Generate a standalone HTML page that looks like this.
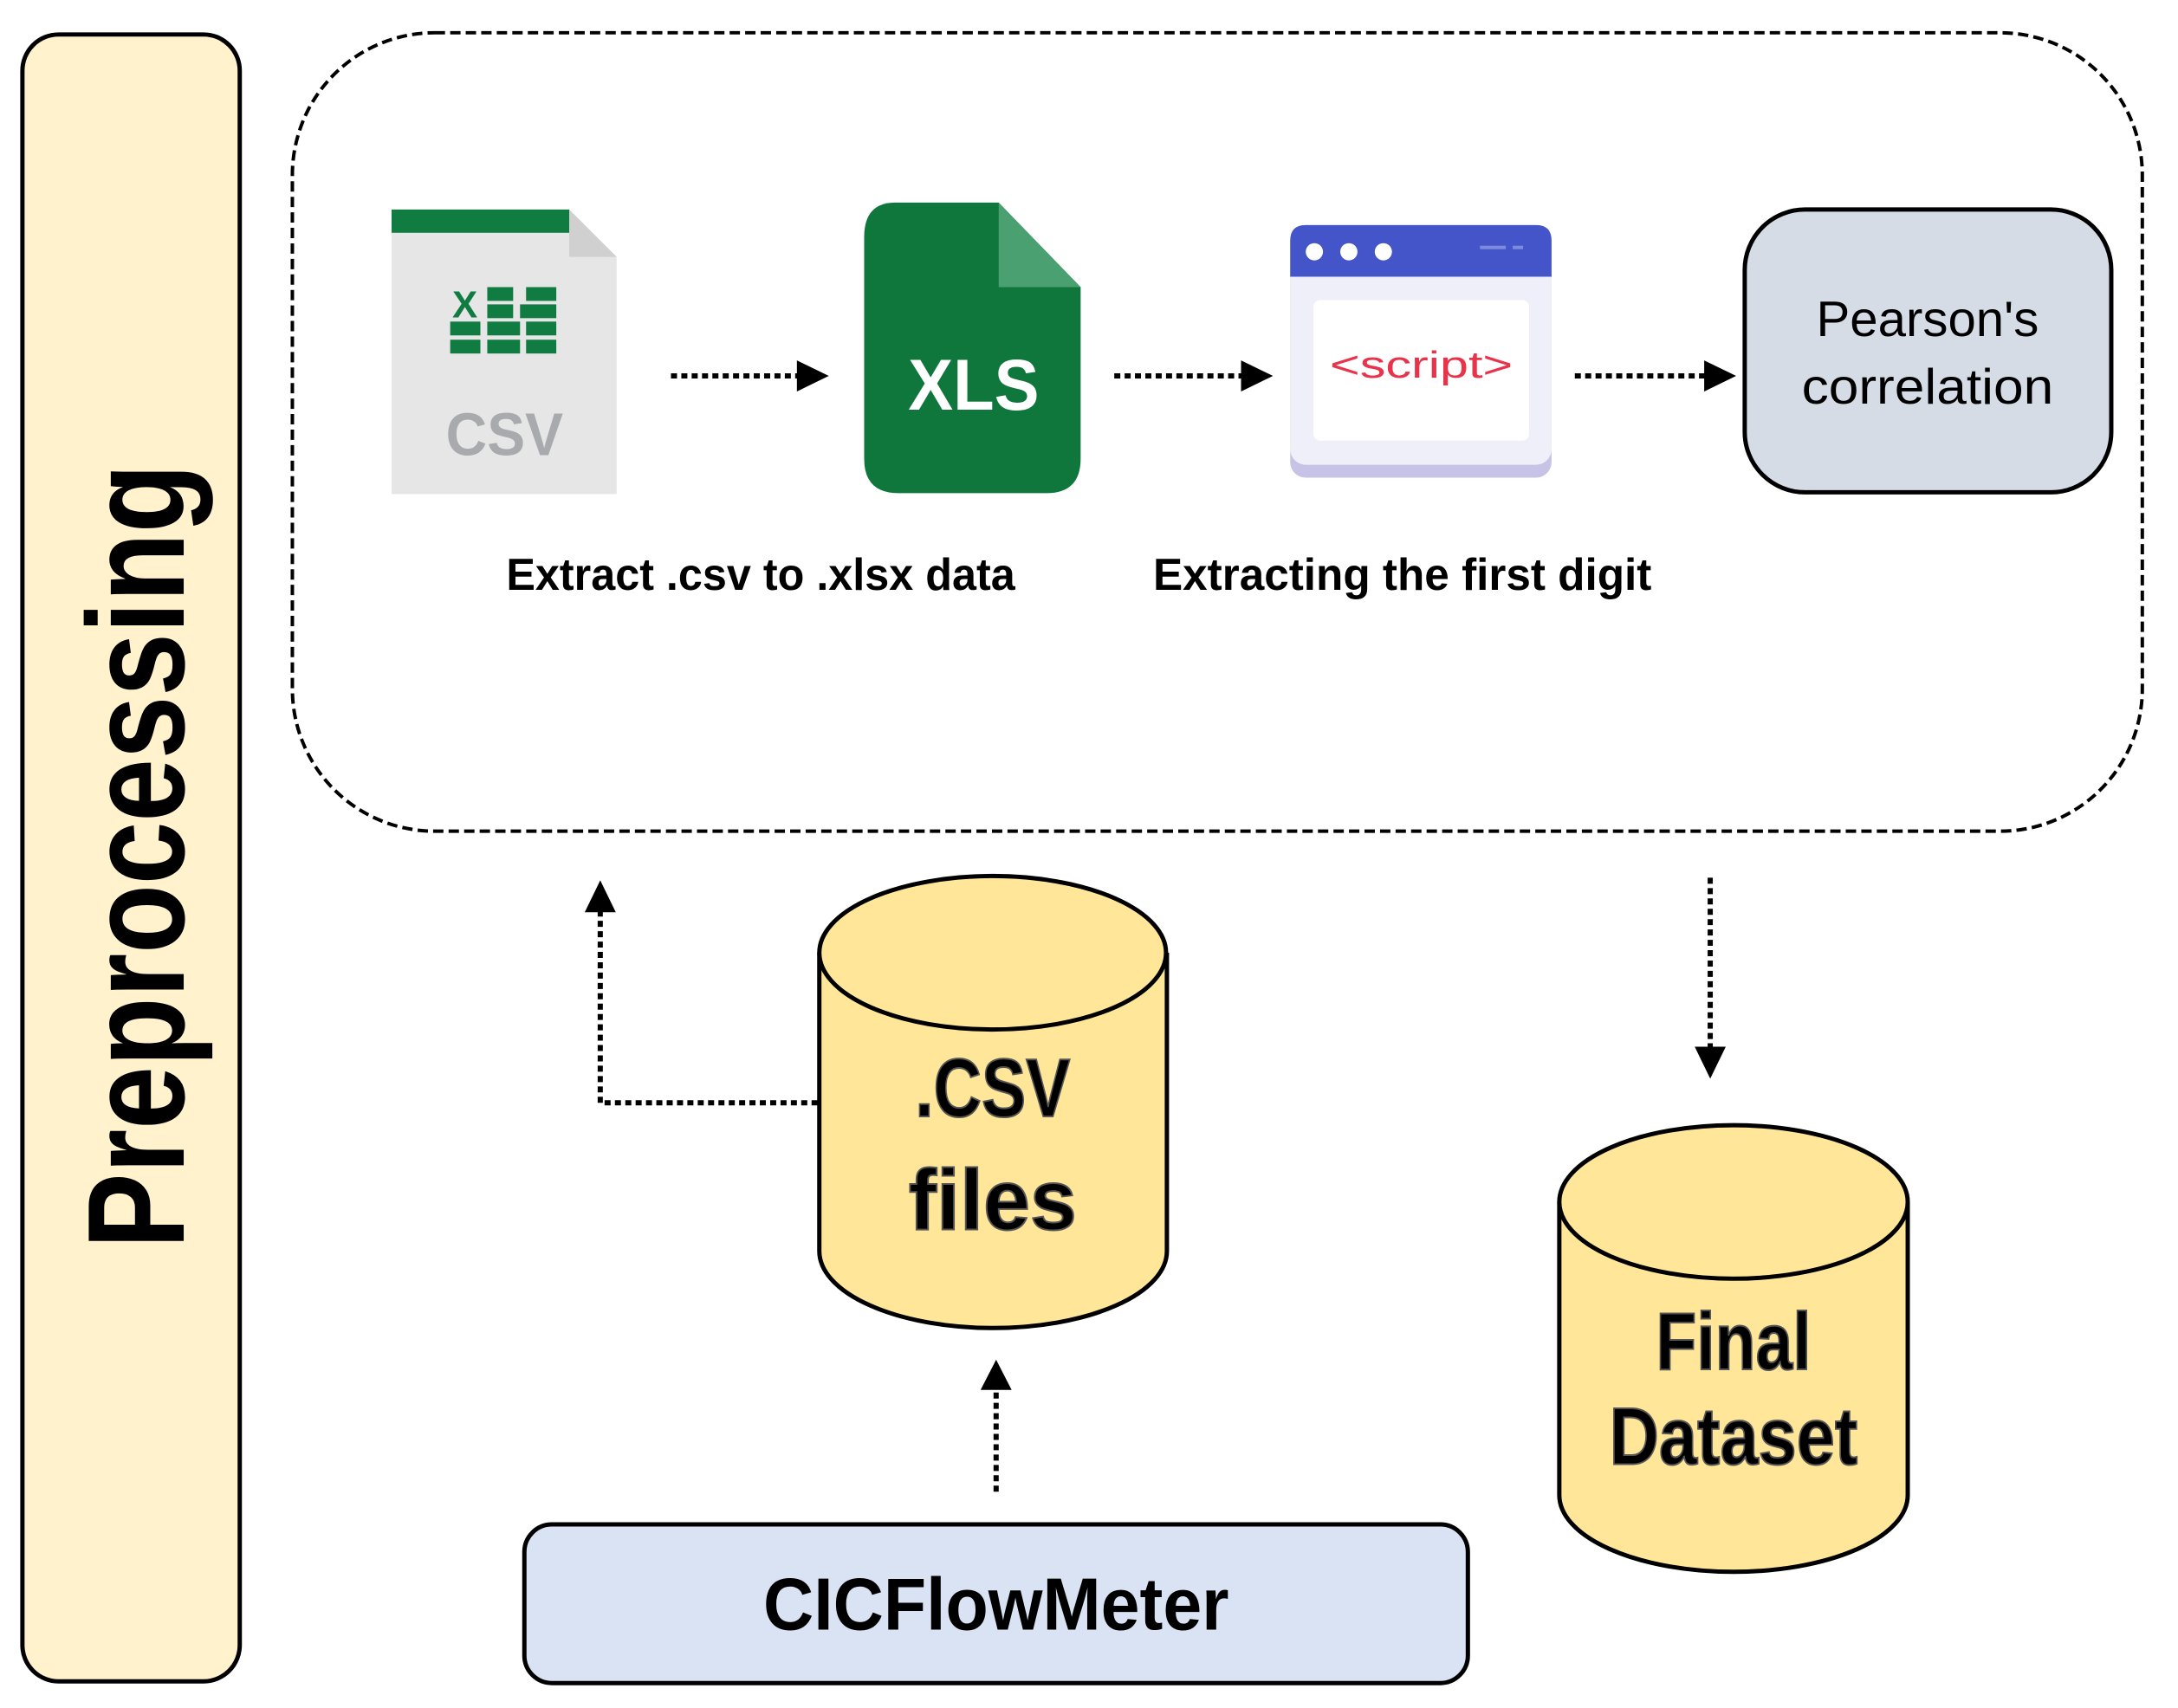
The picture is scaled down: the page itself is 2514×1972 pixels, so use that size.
<!DOCTYPE html>
<html><head><meta charset="utf-8"><style>
html,body{margin:0;padding:0;background:#fff}
svg{display:block}
text{font-family:"Liberation Sans",sans-serif}
</style></head><body>
<svg width="2514" height="1972" viewBox="0 0 2514 1972" xmlns="http://www.w3.org/2000/svg">
<g transform="translate(-2,-2) scale(0.9955)">
<!-- left bar -->
<rect x="28" y="42" width="252" height="1910" rx="42" fill="#fff2cc" stroke="#000" stroke-width="5"/>
<text x="0" y="0" transform="translate(215,1450) rotate(-90)" font-size="160" font-weight="bold" textLength="910" lengthAdjust="spacingAndGlyphs">Preprocessing</text>

<!-- dashed container -->
<rect x="341" y="40" width="2145" height="926" rx="165" fill="none" stroke="#000" stroke-width="4" stroke-dasharray="12 6"/>

<!-- CSV icon -->
<path d="M456 245 H662 L717 300 V575 H456 Z" fill="#e6e6e6"/>
<path d="M662 245 V300 H717 Z" fill="#d0d0d0"/>
<rect x="456" y="245" width="206" height="27" fill="#107c41"/>
<g fill="#107c41">
<rect x="567" y="335" width="30" height="16"/><rect x="612" y="335" width="35" height="16"/>
<rect x="567" y="355" width="30" height="16"/><rect x="605" y="355" width="42" height="16"/>
<rect x="524" y="375" width="35" height="16"/><rect x="567" y="375" width="38" height="16"/><rect x="612" y="375" width="35" height="16"/>
<rect x="524" y="396" width="35" height="16"/><rect x="567" y="396" width="38" height="16"/><rect x="612" y="396" width="35" height="16"/>
</g>
<text x="541" y="370" font-size="44" font-weight="bold" fill="#107c41" text-anchor="middle">X</text>
<text x="587" y="530" font-size="70" font-weight="bold" fill="#a8aaad" text-anchor="middle" textLength="136" lengthAdjust="spacingAndGlyphs">CSV</text>

<!-- XLS icon -->
<path d="M1040 237 H1160 L1255 335 V534 Q1255 574 1215 574 H1044 Q1004 574 1004 534 V277 Q1004 237 1040 237 Z" fill="#0f773c"/>
<path d="M1160 237 V335 H1255 Z" fill="#4aa070"/>
<text x="1131" y="477" font-size="84" font-weight="bold" fill="#fff" text-anchor="middle" textLength="152" lengthAdjust="spacingAndGlyphs">XLS</text>

<!-- script icon -->
<rect x="1498" y="263" width="303" height="293" rx="18" fill="#c6c3e6"/>
<rect x="1498" y="263" width="303" height="278" rx="18" fill="#efeffa"/>
<path d="M1516 263 H1783 Q1801 263 1801 281 V323 H1498 V281 Q1498 263 1516 263 Z" fill="#4355c9"/>
<circle cx="1526" cy="294" r="10" fill="#fff"/><circle cx="1566" cy="294" r="10" fill="#fff"/><circle cx="1606" cy="294" r="10" fill="#fff"/>
<rect x="1718" y="287" width="30" height="4" fill="#7c8be0"/><rect x="1756" y="287" width="12" height="4" fill="#7c8be0"/>
<rect x="1525" y="350" width="250" height="163" rx="8" fill="#fff"/>
<text x="1650" y="440" font-size="44" fill="#e8334a" text-anchor="middle" textLength="212" lengthAdjust="spacingAndGlyphs">&lt;script&gt;</text>

<!-- Pearson box -->
<rect x="2025" y="245" width="425" height="328" rx="70" fill="#d6dce5" stroke="#000" stroke-width="5"/>
<text x="2237" y="392" font-size="58" text-anchor="middle" textLength="258" lengthAdjust="spacingAndGlyphs">Pearson's</text>
<text x="2237" y="470" font-size="58" text-anchor="middle" textLength="292" lengthAdjust="spacingAndGlyphs">correlation</text>

<!-- horizontal arrows -->
<g stroke="#000" stroke-width="6" stroke-dasharray="7 5">
<line x1="780" y1="438" x2="930" y2="438"/>
<line x1="1294" y1="438" x2="1445" y2="438"/>
<line x1="1828" y1="438" x2="1982" y2="438"/>
</g>
<g fill="#000">
<path d="M926 420 L963 438 L926 456 Z"/>
<path d="M1441 420 L1478 438 L1441 456 Z"/>
<path d="M1978 420 L2015 438 L1978 456 Z"/>
</g>

<!-- labels -->
<text x="884" y="686" font-size="52" font-weight="bold" text-anchor="middle" textLength="590" lengthAdjust="spacingAndGlyphs">Extract .csv to .xlsx data</text>
<text x="1628" y="686" font-size="52" font-weight="bold" text-anchor="middle" textLength="578" lengthAdjust="spacingAndGlyphs">Extracting the first digit</text>

<!-- csv cylinder -->
<path d="M952 1107 V1453 A201 89 0 0 0 1355 1453 V1107" fill="#ffe699" stroke="#000" stroke-width="5"/>
<ellipse cx="1153" cy="1107" rx="201" ry="89" fill="#ffe699" stroke="#000" stroke-width="5"/>
<text x="1153" y="1297" font-size="96" font-weight="bold" text-anchor="middle" textLength="180" lengthAdjust="spacingAndGlyphs" stroke="#555" stroke-width="2">.CSV</text>
<text x="1153" y="1428" font-size="100" font-weight="bold" text-anchor="middle" textLength="195" lengthAdjust="spacingAndGlyphs" stroke="#555" stroke-width="2">files</text>

<!-- final dataset cylinder -->
<path d="M1810 1396 V1736 A202 89 0 0 0 2214 1736 V1396" fill="#ffe699" stroke="#000" stroke-width="5"/>
<ellipse cx="2012" cy="1396" rx="202" ry="89" fill="#ffe699" stroke="#000" stroke-width="5"/>
<text x="2012" y="1590" font-size="94" font-weight="bold" text-anchor="middle" textLength="180" lengthAdjust="spacingAndGlyphs" stroke="#555" stroke-width="2">Final</text>
<text x="2012" y="1700" font-size="94" font-weight="bold" text-anchor="middle" textLength="288" lengthAdjust="spacingAndGlyphs" stroke="#555" stroke-width="2">Dataset</text>

<!-- CICFlowMeter -->
<rect x="610" y="1770" width="1094" height="184" rx="32" fill="#dae3f3" stroke="#000" stroke-width="5"/>
<text x="1157" y="1892" font-size="86" font-weight="bold" text-anchor="middle" textLength="540" lengthAdjust="spacingAndGlyphs">CICFlowMeter</text>

<!-- vertical connectors -->
<g stroke="#000" stroke-width="6" fill="none" stroke-dasharray="7 5">
<polyline points="950,1281 698,1281 698,1058"/>
<line x1="1157" y1="1732" x2="1157" y2="1612"/>
<line x1="1985" y1="1020" x2="1985" y2="1218"/>
</g>
<g fill="#000">
<path d="M680 1060 L698 1023 L716 1060 Z"/>
<path d="M1139 1614 L1157 1579 L1175 1614 Z"/>
<path d="M1967 1216 L1985 1253 L2003 1216 Z"/>
</g>
</g>
</svg>
</body></html>
